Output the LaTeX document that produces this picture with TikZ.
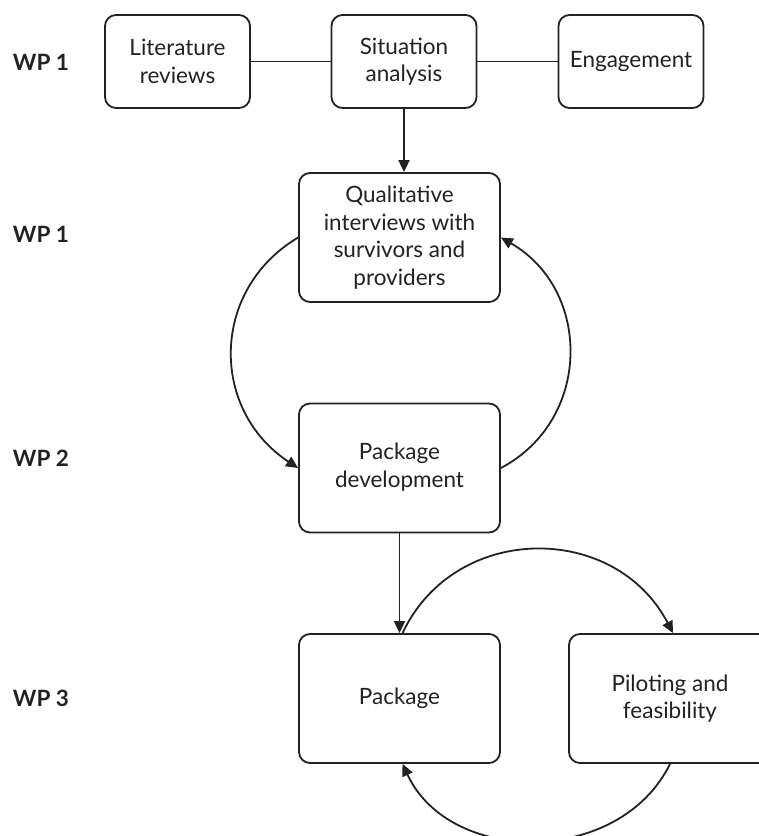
\documentclass[tikz,border=0pt]{standalone}
\usepackage{fontspec}
\setmainfont{Lato}
\usetikzlibrary{arrows.meta}
\definecolor{ink}{HTML}{222222}
\begin{document}
\begin{tikzpicture}[x=1pt,y=-1pt,
  box/.style={draw=ink,line width=1.8pt,rounded corners=11pt,align=center,
    font=\fontsize{22.5}{27.5}\selectfont,text=ink,inner sep=0pt},
  wp/.style={font=\fontsize{22.5}{27}\selectfont\bfseries,text=ink},
  link/.style={draw=ink,line width=1.8pt},
  arr/.style={link,-{Triangle[length=12pt,width=11pt]}}]
\useasboundingbox (0,0) rectangle (759,836);
\clip (0,0) rectangle (759,836);
% WP labels
\node[wp] (w1) at (41,62) {WP 1};
\node[wp] (w1b) at (41,234) {WP 1};
\node[wp] (w2) at (41,458) {WP 2};
\node[wp] (w3) at (41,698) {WP 3};
% top row
\node[box,minimum width=145pt,minimum height=93pt] (lit) at (177.5,61.5) {Literature\\reviews};
\node[box,minimum width=145pt,minimum height=93pt] (sit) at (404,61.5) {Situation\\analysis};
\node[box,minimum width=145pt,minimum height=93pt] (eng) at (631,61.5) {Engagement};
% middle
\node[box,minimum width=201pt,minimum height=129pt] (qual) at (399.5,237.5) {Qualitative\\interviews with\\survivors and\\providers};
\node[box,minimum width=201pt,minimum height=129pt] (pdev) at (399.5,468) {\raisebox{-3pt}{\begin{tabular}{@{}c@{}}Package\\development\end{tabular}}};
% bottom
\node[box,minimum width=201pt,minimum height=129pt] (pack) at (399.5,698.5) {Package};
\node[box,minimum width=202pt,minimum height=129pt] (pilot) at (670,698.5) {Piloting and\\feasibility};
% connectors
\draw[link] (lit.east) -- (sit.west);
\draw[link] (sit.east) -- (eng.west);
\draw[arr] (sit.south) -- (sit.south |- qual.north);
\draw[arr] (qual.west) .. controls (210,290) and (210,410) .. (pdev.west);
\draw[arr] (pdev.east) .. controls (592,420) and (592,290) .. (qual.east);
\draw[arr] (pdev.south) -- (pack.north);
\draw[arr] ([xshift=3pt]pack.north) .. controls (455,522) and (615,522) .. ([xshift=3pt]pilot.north);
\draw[arr] (pilot.south) .. controls (620,866) and (450,866) .. ([xshift=3pt]pack.south);
\end{tikzpicture}
\end{document}
